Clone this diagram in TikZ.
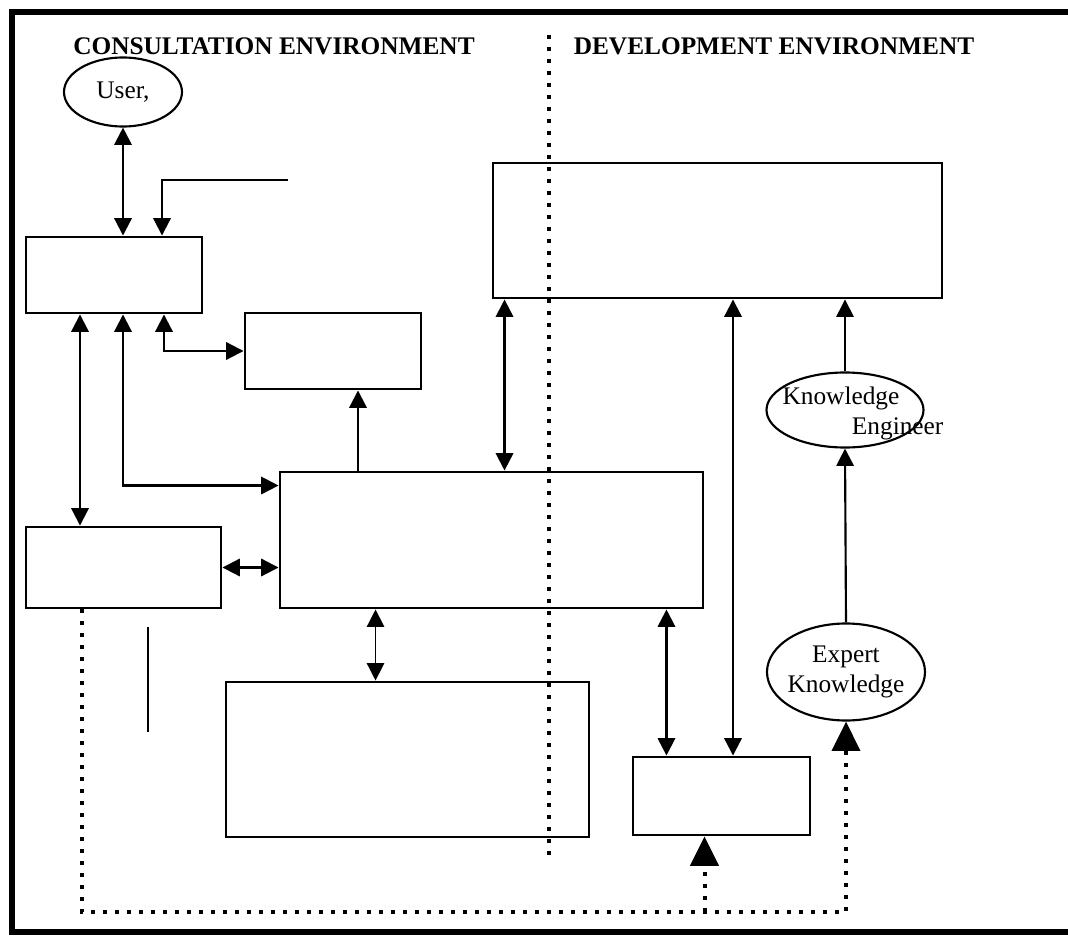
\documentclass[tikz,border=0pt]{standalone}
\usepackage{fontspec}
\setmainfont{Liberation Serif}
\usetikzlibrary{arrows.meta}
\usetikzlibrary{shapes.geometric}
\usetikzlibrary{calc}

\tikzset{
  box/.style={draw, line width=2.2pt, inner sep=0pt},
  oval/.style={draw, ellipse, line width=1.6pt, inner sep=0pt},
  link/.style={line width=1.6pt},
  tip/.style={-{Triangle[length=13pt,width=13pt]}},
  tips/.style={{Triangle[length=13pt,width=13pt]}-{Triangle[length=13pt,width=13pt]}},
  dotline/.style={line width=3pt, dash pattern=on 3pt off 6pt},
  bigtip/.style={-{Triangle[length=22pt,width=21pt]}},
  title/.style={font=\fontsize{19}{22}\selectfont\bfseries},
  txt/.style={font=\fontsize{19}{22.5}\selectfont}
}

\begin{document}
\begin{tikzpicture}[x=0.75pt,y=-0.75pt]
\useasboundingbox (0,0) rectangle (1068,938);

%---------------------------------------
% Frame and divider
%---------------------------------------
\draw[line width=4.4pt] (1068,12) -- (12,12) -- (12,932) -- (1068,932);
\draw[dotline] (549,35) -- (549,862);

\node[title] (cons) at (274,46) {CONSULTATION ENVIRONMENT};
\node[title] (dev)  at (774,46) {DEVELOPMENT ENVIRONMENT};

%---------------------------------------
% Consultation environment
%---------------------------------------
\node[oval, txt, minimum width=88.5pt, minimum height=51.75pt] (user) at (123,92) {User,};
\node[box, minimum width=132pt, minimum height=57pt]       (A) at (114,275) {};
\node[box, minimum width=132pt, minimum height=57pt]       (B) at (333,351) {};
\node[box, minimum width=317.25pt, minimum height=102pt]   (C) at (491.5,540) {};
\node[box, minimum width=146.25pt, minimum height=60.75pt] (D) at (123.5,567.5) {};
\node[box, minimum width=272.25pt, minimum height=116.25pt] (G) at (407.5,759.5) {};

%---------------------------------------
% Development environment
%---------------------------------------
\node[box, minimum width=336.75pt, minimum height=101.25pt] (E) at (717.5,230.5) {};
\node[box, minimum width=132.75pt, minimum height=58.5pt]   (F) at (721.5,796) {};
\node[oval, minimum width=117.75pt, minimum height=56.25pt] (ke) at (845,410) {};
\node[txt, align=left] (kelabel) at ($(ke)+(18,3)$) {Knowledge\\\hspace*{52pt}Engineer};
\node[oval, minimum width=118.5pt, minimum height=72.75pt,
      label={[txt, align=center]center:Expert\\Knowledge}] (ek) at (846,672) {};

%---------------------------------------
% Connectors, consultation side
%---------------------------------------
\coordinate (in1) at (288,180);
\coordinate (a1) at ($(A.south)+(-34,0)$);
\coordinate (a2) at ($(A.south)+(9,0)$);
\coordinate (a3) at ($(A.south)+(50,0)$);
\coordinate (a4) at ($(A.north)+(48,0)$);
\coordinate (b1) at ($(B.south)+(25,0)$);
\coordinate (c1) at ($(C.south west)+(97,0)$);

\draw[link,tips] (user.south) -- (user.south |- A.north);
\draw[link,tip] (in1) -| (a4);
\draw[link,tips] (a1) -- (a1 |- D.north);
\draw[link,tips] (a2) |- ($(C.north west)+(0,15)$);
\draw[link,tips] (a3) |- (B.west);
\draw[link,tip] (b1 |- C.north) -- (b1);
\draw[link,tips] (D.east) -- (D.east -| C.west);
\draw[tips, line width=1pt] (c1) -- (c1 |- G.north);
\draw[line width=0.8pt] (148,627) -- (148,732);

%---------------------------------------
% Connectors, development side
%---------------------------------------
\coordinate (e1) at ($(E.south west)+(13,0)$);
\coordinate (e2) at ($(F.north)+(11.5,0)$);
\coordinate (c2) at ($(C.south east)+(-38,0)$);

\draw[link,tips] (e1) -- (e1 |- C.north);
\draw[link,tips] (e2 |- E.south) -- (e2);
\draw[link,tips] (c2) -- (c2 |- F.north);
\draw[line width=1.1pt,tip] (ke.north) -- (ke.north |- E.south);
\draw[link,tip] (ek.north) -- (ke.south);

% dotted feedback
\coordinate (d1) at ($(D.south west)+(57,0)$);
\coordinate (turn) at (ek.south |- 0,912);
\coordinate (f1) at ($(F.south)+(-17,0)$);
\draw[dotline,bigtip] (d1) |- (turn) -- (ek.south);
\draw[dotline,bigtip] (f1 |- turn) -- (f1);

\end{tikzpicture}
\end{document}
